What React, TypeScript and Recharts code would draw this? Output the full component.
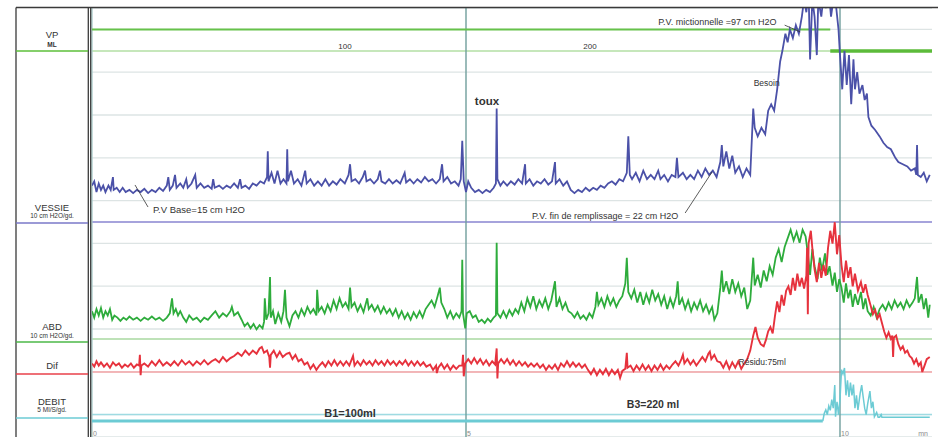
import {
	ComposedChart,
	Line,
	XAxis,
	YAxis,
	CartesianGrid,
	ReferenceLine,
	ReferenceDot,
} from "recharts"

const W = 938
const H = 437
const PLOT = { left: 92, right: 932, top: 8, bottom: 437 }

// time in minutes
const timeDomain = [0, 11.23]
const timeTicks = [0, 5, 10]
// filling volume (ml), read along the VP track
const volumeDomain = [-3.3, 339.6]
const volumeTicks = [100, 200]
// gridlines, one every 10 cm H2O of the bladder channel
const gridTicks = [-100, -90, -80, -70, -60, -50, -40, -30, -20, -10, 0, 10, 20, 30, 40, 50, 60, 70, 80, 90]

const vpFill: [number, number][] = [[0, 1], [9.87, 1]]
const vpVoid: [number, number][] = [[9.87, 0], [11.23, 0]]

// VESSIE, cm H2O
const vessie: [number, number][] = [
	[0, 17], [0.03, 19], [0.06, 14], [0.09, 18], [0.12, 15], [0.15, 17], [0.18, 14], [0.22, 17], [0.25, 15], [0.28, 21],
	[0.29, 15], [0.33, 16], [0.37, 14], [0.41, 16], [0.45, 14], [0.5, 15], [0.55, 13.5], [0.6, 15], [0.65, 14], [0.7, 15.5],
	[0.75, 13.5], [0.8, 15], [0.85, 14], [0.9, 16], [0.95, 14.5], [1.0, 17], [1.02, 21], [1.04, 15], [1.08, 17], [1.11, 22],
	[1.13, 16], [1.18, 18], [1.22, 16], [1.26, 20], [1.28, 16], [1.33, 18], [1.38, 22], [1.4, 16], [1.45, 18], [1.5, 16],
	[1.55, 17], [1.6, 15.5], [1.62, 20], [1.64, 16], [1.7, 17], [1.75, 15.5], [1.8, 17], [1.85, 16], [1.9, 18], [1.95, 16],
	[1.98, 20], [2.0, 16], [2.05, 17], [2.1, 15.5], [2.15, 18], [2.2, 17], [2.25, 19], [2.3, 18], [2.34, 21], [2.35, 33],
	[2.36, 19], [2.4, 23], [2.44, 18], [2.48, 24], [2.52, 18], [2.56, 20], [2.6, 18], [2.61, 34], [2.62, 19], [2.66, 24],
	[2.7, 18], [2.75, 20], [2.8, 17], [2.85, 24], [2.87, 18], [2.92, 20], [2.97, 17], [3.02, 19], [3.07, 17], [3.12, 20],
	[3.17, 17], [3.22, 19], [3.27, 17.5], [3.32, 20], [3.38, 18], [3.43, 22], [3.45, 27], [3.47, 19], [3.52, 20], [3.57, 18],
	[3.62, 21], [3.65, 24], [3.67, 19], [3.72, 20], [3.77, 18], [3.82, 20], [3.85, 24], [3.87, 19], [3.92, 18], [3.97, 20],
	[4.02, 18], [4.07, 19.5], [4.12, 18], [4.18, 23], [4.2, 18.5], [4.25, 20], [4.3, 18], [4.35, 20], [4.4, 18.5], [4.45, 21],
	[4.5, 19], [4.55, 20], [4.6, 18], [4.65, 20], [4.68, 27], [4.7, 19], [4.75, 21], [4.8, 18], [4.85, 19], [4.9, 17],
	[4.93, 20], [4.95, 38], [4.97, 19], [5.0, 14], [5.03, 19], [5.07, 16], [5.12, 14], [5.17, 15], [5.22, 13.5], [5.27, 15],
	[5.32, 14], [5.37, 16], [5.4, 18], [5.41, 53], [5.42, 20], [5.46, 17], [5.5, 19], [5.55, 17], [5.6, 19], [5.65, 17.5],
	[5.7, 20], [5.75, 18], [5.79, 27], [5.8, 18], [5.85, 20], [5.9, 17], [5.95, 19], [6.0, 18], [6.05, 20], [6.1, 17.5],
	[6.15, 19], [6.19, 28], [6.2, 18], [6.25, 20], [6.3, 17], [6.35, 19], [6.4, 15], [6.45, 13.5], [6.5, 15], [6.55, 14],
	[6.6, 16], [6.65, 14.5], [6.7, 16], [6.75, 15], [6.8, 17], [6.85, 16], [6.9, 18], [6.95, 19], [7.0, 17.5], [7.05, 20],
	[7.1, 19], [7.15, 23], [7.17, 40], [7.19, 22], [7.22, 20], [7.27, 23], [7.32, 19], [7.37, 24], [7.42, 20], [7.47, 22],
	[7.52, 20], [7.57, 24], [7.6, 20], [7.65, 22], [7.7, 19], [7.75, 22], [7.8, 21], [7.82, 30], [7.84, 21], [7.9, 23],
	[7.95, 20], [8.0, 22], [8.05, 20], [8.1, 24], [8.15, 21], [8.2, 25], [8.25, 22], [8.3, 24], [8.35, 21], [8.4, 28],
	[8.42, 36], [8.44, 26], [8.48, 33], [8.52, 25], [8.56, 31], [8.6, 23], [8.65, 26], [8.7, 21], [8.75, 25], [8.8, 22],
	[8.84, 53], [8.86, 44], [8.9, 40], [8.95, 44], [9.0, 41], [9.04, 52], [9.08, 55], [9.12, 52], [9.16, 62], [9.2, 75],
	[9.23, 80], [9.27, 88], [9.3, 84], [9.33, 90], [9.37, 86], [9.41, 92], [9.45, 88], [9.49, 96], [9.52, 104], [9.55, 98],
	[9.58, 108], [9.6, 76], [9.63, 104], [9.66, 96], [9.69, 78], [9.71, 104], [9.75, 96], [9.78, 106], [9.81, 100], [9.85, 108],
	[9.88, 96], [9.92, 106], [9.95, 100], [9.98, 90], [10.0, 78], [10.03, 62], [10.06, 80], [10.09, 64], [10.12, 78], [10.15, 55],
	[10.18, 76], [10.2, 62], [10.23, 70], [10.26, 60], [10.3, 64], [10.33, 57], [10.36, 60], [10.38, 49], [10.42, 45], [10.47, 43],
	[10.53, 40], [10.58, 37], [10.63, 35], [10.68, 34], [10.71, 32], [10.74, 30], [10.78, 28], [10.84, 27], [10.9, 26], [10.95, 24],
	[11.0, 25], [11.02, 22], [11.03, 36], [11.04, 22], [11.08, 21], [11.12, 23], [11.16, 19], [11.2, 22],
]

// ABD, cm H2O
const abd: [number, number][] = [
	[0, 13], [0.03, 10], [0.06, 14], [0.09, 11], [0.12, 14.5], [0.15, 10], [0.18, 13], [0.21, 11], [0.24, 14], [0.27, 9],
	[0.3, 11], [0.34, 10], [0.38, 8.5], [0.42, 10], [0.46, 9], [0.5, 10.5], [0.55, 9], [0.6, 10], [0.65, 8.5], [0.7, 10],
	[0.75, 9], [0.8, 10.5], [0.85, 9], [0.9, 10], [0.95, 8.5], [1.0, 10], [1.04, 12], [1.07, 19], [1.09, 12], [1.12, 14],
	[1.15, 11], [1.18, 13], [1.22, 10], [1.26, 8], [1.3, 11], [1.35, 9], [1.4, 10], [1.45, 8], [1.5, 10], [1.55, 9],
	[1.6, 11], [1.65, 13], [1.7, 10], [1.75, 12], [1.8, 10.5], [1.85, 13], [1.87, 15], [1.9, 11], [1.95, 12.5], [2.0, 9],
	[2.04, 6], [2.08, 7.5], [2.12, 5], [2.16, 7], [2.2, 4.5], [2.24, 6.5], [2.28, 5], [2.3, 8], [2.31, 19], [2.33, 9],
	[2.36, 12], [2.38, 29], [2.39, 10], [2.42, 13], [2.45, 7], [2.49, 12], [2.53, 8], [2.56, 13], [2.58, 23], [2.6, 10],
	[2.64, 6], [2.68, 11], [2.72, 13], [2.76, 10], [2.8, 14], [2.84, 11], [2.88, 15], [2.92, 12], [2.96, 14], [3.0, 11],
	[3.01, 23], [3.03, 13], [3.07, 15], [3.11, 12], [3.15, 16], [3.19, 13], [3.23, 18], [3.27, 14], [3.31, 19], [3.35, 15],
	[3.39, 17], [3.43, 14], [3.45, 24], [3.47, 15], [3.51, 17], [3.55, 13], [3.59, 16], [3.63, 12.5], [3.68, 19], [3.7, 14],
	[3.74, 16], [3.78, 13], [3.82, 15.5], [3.86, 12], [3.9, 15], [3.94, 12], [3.98, 14], [4.02, 11], [4.06, 14], [4.1, 10],
	[4.14, 13], [4.18, 9.5], [4.22, 12], [4.26, 9], [4.3, 12.5], [4.34, 10], [4.38, 13], [4.42, 10], [4.46, 14], [4.5, 16],
	[4.54, 18], [4.58, 15], [4.62, 20], [4.65, 24], [4.67, 17], [4.71, 14], [4.75, 10], [4.79, 13], [4.83, 9.5], [4.87, 12],
	[4.91, 10], [4.94, 13], [4.95, 37], [4.96, 12], [4.99, 5], [5.01, 12], [5.05, 13], [5.09, 10], [5.13, 11], [5.17, 8],
	[5.21, 9], [5.25, 7.5], [5.29, 9.5], [5.33, 8], [5.37, 10], [5.4, 11], [5.41, 45], [5.42, 12], [5.46, 10], [5.5, 13],
	[5.54, 10], [5.58, 13.5], [5.62, 11], [5.66, 14], [5.7, 12], [5.74, 17], [5.78, 13], [5.82, 19], [5.86, 15], [5.9, 20],
	[5.94, 14], [5.98, 18], [6.02, 15], [6.06, 19], [6.1, 14], [6.14, 18], [6.19, 27], [6.21, 15], [6.25, 19], [6.29, 14],
	[6.33, 17], [6.37, 13], [6.41, 12], [6.45, 10], [6.49, 12.5], [6.53, 9.5], [6.57, 11], [6.61, 9], [6.65, 12], [6.69, 10],
	[6.73, 15], [6.75, 22], [6.77, 16], [6.81, 19], [6.85, 15], [6.89, 20], [6.93, 16], [6.97, 19], [7.01, 15], [7.05, 18],
	[7.09, 20], [7.13, 26], [7.15, 38], [7.17, 22], [7.21, 19], [7.25, 23], [7.29, 17], [7.33, 22], [7.37, 16], [7.41, 21],
	[7.45, 17], [7.49, 23], [7.53, 18], [7.57, 21], [7.61, 16], [7.65, 20], [7.69, 14], [7.73, 19], [7.77, 15], [7.81, 20],
	[7.83, 27], [7.85, 16], [7.89, 19], [7.93, 14], [7.97, 18], [8.01, 13], [8.05, 17], [8.09, 14], [8.13, 18], [8.17, 13],
	[8.21, 16], [8.25, 12], [8.29, 15], [8.32, 9], [8.36, 12], [8.4, 24], [8.42, 32], [8.44, 22], [8.48, 27], [8.52, 21],
	[8.56, 28], [8.6, 22], [8.64, 26], [8.68, 20], [8.72, 24], [8.76, 14], [8.8, 18], [8.84, 38], [8.86, 25], [8.9, 30],
	[8.94, 24], [8.98, 32], [9.02, 27], [9.06, 34], [9.1, 30], [9.14, 38], [9.18, 42], [9.22, 36], [9.26, 43], [9.3, 47],
	[9.34, 51], [9.38, 46], [9.42, 50], [9.46, 45], [9.5, 51], [9.54, 48], [9.57, 40], [9.6, 30], [9.63, 42], [9.66, 34],
	[9.7, 28], [9.73, 38], [9.76, 32], [9.8, 40], [9.83, 30], [9.86, 34], [9.9, 25], [9.93, 31], [9.96, 22], [9.99, 28],
	[10.02, 24], [10.05, 17], [10.08, 26], [10.11, 19], [10.14, 23], [10.17, 15], [10.2, 21], [10.24, 16], [10.28, 22], [10.31, 14],
	[10.34, 19], [10.37, 13], [10.41, 11], [10.45, 15], [10.49, 10], [10.53, 14], [10.57, 16], [10.61, 13.5], [10.65, 17], [10.69, 14],
	[10.73, 18], [10.77, 15], [10.81, 17], [10.85, 14], [10.89, 18], [10.93, 15], [10.97, 17], [11.0, 19], [11.03, 29], [11.05, 17],
	[11.09, 21], [11.12, 14], [11.15, 19], [11.18, 10], [11.2, 16],
]

// Dif (vessie - abd), cm H2O
const dif: [number, number][] = [
	[0, 4], [0.03, 2.5], [0.06, 5], [0.09, 3], [0.12, 4.5], [0.16, 2.5], [0.2, 4], [0.24, 2], [0.28, 4.5], [0.32, 3],
	[0.36, 4], [0.4, 2], [0.44, 3.5], [0.48, 2.5], [0.52, 4], [0.56, 2], [0.6, 3.5], [0.63, 3], [0.64, 8], [0.65, -1.5],
	[0.66, 3], [0.7, 4], [0.75, 2.5], [0.8, 5], [0.85, 3], [0.9, 5.5], [0.95, 3], [1.0, 4.5], [1.05, 3], [1.1, 5],
	[1.15, 3], [1.2, 5.5], [1.25, 3.5], [1.3, 5], [1.35, 3], [1.4, 5], [1.45, 3.5], [1.5, 5.5], [1.55, 3.5], [1.6, 5],
	[1.65, 6], [1.7, 4.5], [1.75, 7], [1.8, 5], [1.85, 6.5], [1.9, 7.5], [1.95, 9], [2.0, 7.5], [2.05, 10], [2.1, 8],
	[2.15, 10], [2.2, 8.5], [2.24, 11], [2.27, 11.7], [2.3, 9], [2.34, 10], [2.37, 7], [2.38, 2], [2.39, 8], [2.43, 10],
	[2.47, 7], [2.51, 9.5], [2.55, 7], [2.6, 8.5], [2.64, 9], [2.68, 6], [2.72, 8], [2.76, 5], [2.8, 6], [2.84, 3.5],
	[2.88, 4.5], [2.92, 1.5], [2.96, 3.5], [3.0, 1], [3.04, 3], [3.08, 4.5], [3.12, 2.5], [3.16, 5], [3.2, 3], [3.24, 5.5],
	[3.28, 3], [3.32, 5], [3.36, 3], [3.4, 5], [3.44, 3], [3.49, 7.5], [3.51, 3], [3.55, 5], [3.59, 3], [3.63, 5.5],
	[3.67, 3.5], [3.71, 5], [3.75, 3], [3.79, 5.5], [3.83, 3.5], [3.87, 5], [3.91, 3], [3.95, 5.5], [3.99, 3.5], [4.03, 5],
	[4.07, 3], [4.11, 5], [4.15, 3.5], [4.19, 5.5], [4.23, 3], [4.27, 5], [4.31, 3], [4.35, 5], [4.39, 3], [4.43, 4.5],
	[4.47, 2.5], [4.52, 3.5], [4.56, 1], [4.6, 3], [4.61, -0.5], [4.63, 2], [4.67, 4], [4.71, 1.5], [4.75, 3.5], [4.79, 1],
	[4.83, 3], [4.87, 1.5], [4.91, 3], [4.95, 3], [4.96, 8], [4.97, -2], [4.99, 4], [5.03, 6], [5.07, 4], [5.11, 6.5],
	[5.15, 4], [5.19, 6], [5.23, 3.5], [5.27, 5.5], [5.31, 3], [5.35, 5], [5.39, 3.5], [5.41, 11], [5.42, -3], [5.43, 4],
	[5.47, 6], [5.51, 4], [5.55, 6], [5.59, 3.5], [5.63, 5.5], [5.67, 3], [5.71, 5], [5.75, 3], [5.79, 4.5], [5.83, 2.5],
	[5.87, 4], [5.91, 2.5], [5.95, 4], [5.99, 2], [6.03, 3.5], [6.07, 1], [6.11, 3], [6.15, 1.5], [6.19, 3.5], [6.23, 1],
	[6.27, 4], [6.31, 2.5], [6.35, 5], [6.39, 2.5], [6.43, 4.5], [6.47, 2.5], [6.51, 4], [6.55, 2], [6.59, 3.5], [6.63, 1],
	[6.67, -1], [6.71, 1.5], [6.75, -1.5], [6.79, 1], [6.83, -1], [6.87, 1.5], [6.91, -1.5], [6.95, 1], [6.99, -1], [7.03, 1],
	[7.06, -2.8], [7.09, 0.5], [7.13, 1.5], [7.15, 9], [7.16, 2], [7.2, 3], [7.24, 0.5], [7.28, 3], [7.32, 1], [7.36, 3.5],
	[7.4, 1], [7.44, 3], [7.48, 0.5], [7.52, 3], [7.56, 1], [7.6, 3.5], [7.64, 1], [7.68, 3], [7.72, 1.5], [7.76, 3.5],
	[7.8, 5], [7.84, 3], [7.88, 6], [7.9, 8], [7.92, 4], [7.96, 6], [8.0, 3.5], [8.04, 5.5], [8.08, 3], [8.12, 5],
	[8.16, 7], [8.2, 5], [8.24, 8.5], [8.26, 9.5], [8.28, 6], [8.32, 8], [8.36, 5], [8.4, 4.5], [8.44, 2], [8.48, 5],
	[8.52, 1.5], [8.56, 4.5], [8.6, 2], [8.64, 5], [8.68, 1.5], [8.72, 4], [8.76, 6], [8.8, 10], [8.84, 17], [8.87, 21],
	[8.9, 16], [8.94, 13], [8.98, 12], [9.01, 15], [9.04, 19], [9.07, 21], [9.1, 18], [9.13, 26], [9.16, 33], [9.19, 28],
	[9.22, 36], [9.25, 31], [9.28, 38], [9.31, 40], [9.34, 36], [9.37, 44], [9.4, 38], [9.43, 46], [9.46, 40], [9.49, 44],
	[9.52, 39], [9.55, 45], [9.56, 58], [9.57, 27], [9.58, 60], [9.61, 66], [9.63, 58], [9.66, 48], [9.69, 42], [9.72, 51],
	[9.75, 44], [9.78, 50], [9.81, 45], [9.84, 58], [9.87, 66], [9.9, 60], [9.93, 70], [9.96, 55], [9.99, 64], [10.02, 50],
	[10.05, 42], [10.08, 52], [10.11, 44], [10.14, 49], [10.17, 40], [10.2, 46], [10.24, 38], [10.28, 42], [10.31, 37], [10.34, 41],
	[10.37, 36], [10.41, 31], [10.44, 27], [10.47, 29], [10.5, 25], [10.53, 27], [10.56, 23], [10.59, 19], [10.62, 16], [10.65, 18.5],
	[10.68, 15.5], [10.7, 17], [10.71, 7], [10.72, 16], [10.75, 17], [10.78, 13], [10.81, 10.5], [10.84, 12], [10.87, 9], [10.9, 10],
	[10.93, 7.5], [10.96, 6.5], [10.99, 4], [11.02, 6], [11.05, 3], [11.08, 4.5], [11.1, 0], [11.13, 3], [11.16, 6], [11.2, 7],
]

// DEBIT, ml/s
const debit: [number, number][] = [
	[0, 0], [9.77, 0], [9.79, 1.8], [9.81, 2.6], [9.83, 1.5], [9.85, 3.5], [9.87, 2.5], [9.89, 5], [9.91, 3], [9.93, 8.4],
	[9.94, 1], [9.96, 4.5], [9.98, 1.5], [10.0, 5], [10.02, 12], [10.04, 11], [10.06, 12.4], [10.08, 6], [10.1, 9.5], [10.12, 5.6],
	[10.14, 9], [10.16, 6], [10.18, 8.5], [10.2, 3], [10.22, 6], [10.24, 2.6], [10.27, 6.5], [10.29, 8.4], [10.31, 5.6], [10.33, 3],
	[10.35, 1.5], [10.37, 4], [10.4, 7], [10.42, 3], [10.44, 4.5], [10.46, 1], [10.49, 2], [10.51, 0.9], [10.53, 0.9], [10.55, 1.5],
	[10.56, 0.9], [11.2, 0.9],
]
const voidStart = 9.77

const rows = (pts: [number, number][]) => pts.map(([t, v]) => ({ t, v }))

// each channel gets its own band: zero at a baseline pixel, fixed pixels per unit
const band = (basePx: number, pxPerUnit: number) => [
	-(PLOT.bottom - basePx) / pxPerUnit,
	(basePx - PLOT.top) / pxPerUnit,
]

// the volume scale runs across the same width as the time scale
const mlToTime = (ml: number) =>
	((ml - volumeDomain[0]) / (volumeDomain[1] - volumeDomain[0])) * (timeDomain[1] - timeDomain[0]) + timeDomain[0]

const FONT = "'Liberation Sans', Arial, Helvetica, sans-serif"

const notes = [
	{ t: 1.43, v: 5.6, text: "P.V Base=15  cm H2O", size: 9.5, bold: false },
	{ t: 6.86, v: 2.8, text: "P.V. fin de remplissage = 22  cm H2O", size: 9, bold: false },
	{ t: 8.36, v: 93.5, text: "P.V. mictionnelle =97  cm H2O", size: 9, bold: false },
	{ t: 9.02, v: 65, text: "Besoin", size: 8.5, bold: false },
	{ t: 5.28, v: 56.5, text: "toux", size: 11.5, bold: true },
	{ t: 8.96, v: -65.4, text: "Résidu:75ml", size: 8.5, bold: false },
	{ t: 3.45, v: -89.3, text: "B1=100ml", size: 11, bold: true },
	{ t: 7.5, v: -85, text: "B3=220 ml", size: 10.5, bold: true },
	...volumeTicks.map((ml) => ({ t: mlToTime(ml), v: 82.2, text: String(ml), size: 8, bold: false })),
]

const leaders = [
	[{ x: 0.575, y: 17.3 }, { x: 0.749, y: 7 }],
	[{ x: 7.93, y: 4.2 }, { x: 8.29, y: 23.4 }],
	[{ x: 9.26, y: 92 }, { x: 9.47, y: 88.8 }],
]

const TimeTick = ({ x, payload }: any) => (
	<text x={x + 1} y={436} fontSize={7} fill="#8a8a8a" fontFamily={FONT}>
		{payload.value}
	</text>
)

const channels = [
	{ y: 51, color: "#5cbf3a", title: "VP", titleY: 38, sub: "ML", subY: 47 },
	{ y: 223, color: "#7a78c8", title: "VESSIE", titleY: 211, sub: "10  cm H2O/gd.", subY: 218 },
	{ y: 342, color: "#4cb848", title: "ABD", titleY: 330, sub: "10 cm H2O/gd.", subY: 338 },
	{ y: 374, color: "#e8404a", title: "Dif", titleY: 369, sub: "", subY: 0 },
	{ y: 418, color: "#6ccbd4", title: "DEBIT", titleY: 405, sub: "5 Ml/S/gd.", subY: 412 },
]

const Frame = () => (
	<svg
		width={W}
		height={H}
		style={{ position: "absolute", left: 0, top: 0, pointerEvents: "none" }}
	>
		<line x1={16} y1={7.5} x2={W} y2={7.5} stroke="#3a3a3a" strokeWidth={1.5} />
		<line x1={16} y1={7.5} x2={16} y2={H} stroke="#3a3a3a" strokeWidth={1.3} />
		<line x1={88.3} y1={7.5} x2={88.3} y2={H} stroke="#3a3a3a" strokeWidth={1.3} />
		<line x1={90.7} y1={7.5} x2={90.7} y2={H} stroke="#3a3a3a" strokeWidth={1.3} />
		{channels.map((c) => (
			<g key={c.title} fontFamily={FONT} fill="#333" textAnchor="middle">
				<line x1={16} y1={c.y} x2={88} y2={c.y} stroke={c.color} strokeWidth={1.5} />
				<text x={52} y={c.titleY} fontSize={9.5}>
					{c.title}
				</text>
				{c.sub && (
					<text x={52} y={c.subY} fontSize={6.5} fontWeight={c.sub === "ML" ? "bold" : "normal"}>
						{c.sub}
					</text>
				)}
			</g>
		))}
		<text x={923} y={436} fontSize={7} fill="#8a8a8a" textAnchor="middle" fontFamily={FONT}>
			mn
		</text>
	</svg>
)

const App = () => {
	const debitRows = rows(debit)
	return (
		<div style={{ position: "absolute", left: 0, top: 0, width: W, height: H, background: "#fff", fontFamily: FONT }}>
			<ComposedChart
				width={W}
				height={H}
				margin={{ top: PLOT.top, right: W - PLOT.right, left: PLOT.left, bottom: H - PLOT.bottom }}
			>
				<XAxis
					xAxisId="t"
					dataKey="t"
					type="number"
					domain={timeDomain}
					ticks={timeTicks}
					allowDataOverflow
					mirror
					axisLine={false}
					tickLine={false}
					tick={TimeTick}
				/>
				<YAxis yAxisId="ves" type="number" domain={band(222, 2.14)} ticks={gridTicks} allowDataOverflow hide />
				<YAxis yAxisId="abd" type="number" domain={band(339, 2.14)} allowDataOverflow hide />
				<YAxis yAxisId="dif" type="number" domain={band(372, 2.14)} allowDataOverflow hide />
				<YAxis yAxisId="deb" type="number" domain={band(421, 4.28)} allowDataOverflow hide />
				<YAxis yAxisId="vp" type="number" domain={band(51, 21.4)} allowDataOverflow hide />
				<CartesianGrid xAxisId="t" yAxisId="ves" vertical={false} stroke="#dde4e4" strokeWidth={1.3} />

				<ReferenceLine xAxisId="t" yAxisId="vp" y={0} stroke="#b3dfa5" strokeWidth={1.5} />
				<ReferenceLine xAxisId="t" yAxisId="ves" y={0} stroke="#8985d0" strokeWidth={1.3} />
				<ReferenceLine xAxisId="t" yAxisId="abd" y={0} stroke="#a9d9a0" strokeWidth={1.5} />
				<ReferenceLine xAxisId="t" yAxisId="dif" y={0} stroke="#f4a3a6" strokeWidth={1.5} />
				<ReferenceLine xAxisId="t" yAxisId="ves" y={-90} stroke="#9fdbe2" strokeWidth={1.5} />
				<ReferenceLine xAxisId="t" yAxisId="ves" x={0} stroke="#a7cbca" strokeWidth={1.3} />
				<ReferenceLine xAxisId="t" yAxisId="ves" x={5} stroke="#6f9e9c" strokeWidth={1.4} />
				<ReferenceLine xAxisId="t" yAxisId="ves" x={10} stroke="#6f9e9c" strokeWidth={1.4} />

				<Line xAxisId="t" yAxisId="vp" data={rows(vpFill)} dataKey="v" stroke="#66c24a" strokeWidth={2} dot={false} isAnimationActive={false} />
				<Line xAxisId="t" yAxisId="vp" data={rows(vpVoid)} dataKey="v" stroke="#5cbb3a" strokeWidth={3.5} dot={false} isAnimationActive={false} />
				<Line xAxisId="t" yAxisId="deb" data={debitRows.filter((r) => r.t <= voidStart)} dataKey="v" stroke="#6ccbd4" strokeWidth={3} dot={false} isAnimationActive={false} />
				<Line xAxisId="t" yAxisId="deb" data={debitRows.filter((r) => r.t >= voidStart)} dataKey="v" stroke="#6ccbd4" strokeWidth={1.5} dot={false} isAnimationActive={false} />
				<Line xAxisId="t" yAxisId="abd" data={rows(abd)} dataKey="v" stroke="#2eac3c" strokeWidth={1.8} dot={false} isAnimationActive={false} />
				<Line xAxisId="t" yAxisId="dif" data={rows(dif)} dataKey="v" stroke="#e6323d" strokeWidth={1.9} dot={false} isAnimationActive={false} />
				<Line xAxisId="t" yAxisId="ves" data={rows(vessie)} dataKey="v" stroke="#4b51a8" strokeWidth={1.8} dot={false} isAnimationActive={false} />

				{leaders.map((seg, i) => (
					<ReferenceLine key={i} xAxisId="t" yAxisId="ves" segment={seg} stroke="#333" strokeWidth={0.8} />
				))}
				{notes.map((n) => (
					<ReferenceDot
						key={n.text}
						xAxisId="t"
						yAxisId="ves"
						x={n.t}
						y={n.v}
						r={1}
						fill="none"
						stroke="none"
						label={{
							value: n.text,
							position: "center",
							fontSize: n.size,
							fontWeight: n.bold ? "bold" : "normal",
							fill: "#333",
							fontFamily: FONT,
						}}
					/>
				))}
			</ComposedChart>
			<Frame />
		</div>
	)
}

export default App
